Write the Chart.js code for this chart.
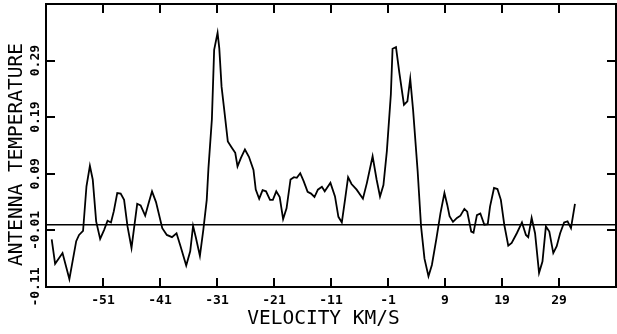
<!DOCTYPE html>
<html>
<head>
<meta charset="utf-8">
<script src="https://cdn.jsdelivr.net/npm/chart.js@4/dist/chart.umd.min.js"></script>
<style>
html,body{margin:0;padding:0;background:#fff;}
#wrap{width:617px;height:334px;position:relative;}
</style>
</head>
<body>
<div id="wrap"><canvas id="c" width="617" height="334"></canvas></div>
<script>
// Velocity (km/s) of each sample
const velocity = [-60.0,-59.4,-58.1,-56.9,-55.7,-55.2,-54.5,-53.9,-53.3,-52.8,-52.2,-51.5,-50.8,-50.2,-49.6,-49.1,-48.5,-47.9,-47.3,-46.7,-46.0,-45.0,-44.4,-43.6,-43.0,-42.4,-41.7,-40.6,-39.8,-38.9,-38.1,-37.4,-36.4,-35.7,-35.2,-34.7,-34.0,-33.4,-32.8,-32.5,-31.9,-31.5,-30.9,-30.6,-30.2,-29.8,-29.1,-28.4,-27.8,-27.4,-26.8,-26.1,-25.4,-24.6,-24.2,-23.6,-23.0,-22.4,-21.7,-21.2,-20.6,-20.0,-19.4,-18.8,-18.1,-17.5,-17.0,-16.4,-15.8,-15.1,-14.5,-13.9,-13.3,-12.6,-12.1,-11.1,-10.3,-9.7,-9.1,-8.5,-8.0,-7.4,-6.5,-5.4,-4.7,-3.7,-3.0,-2.4,-1.8,-1.2,-0.5,-0.2,0.4,1.0,1.8,2.4,2.9,3.4,4.2,4.8,5.4,6.1,6.7,7.5,8.2,8.9,9.4,9.8,10.4,11.1,11.7,12.4,12.9,13.6,14.0,14.6,15.2,15.9,16.5,16.9,17.6,18.2,18.8,19.4,20.1,20.7,21.6,22.5,23.2,23.6,24.2,24.8,25.5,26.1,26.7,27.3,28.0,28.6,29.2,29.9,30.5,31.1,31.8];
// Antenna temperature of each sample
const temperature = [-0.026,-0.069,-0.050,-0.096,-0.029,-0.018,-0.011,0.068,0.104,0.080,0.006,-0.025,-0.009,0.007,0.004,0.024,0.056,0.055,0.044,-0.003,-0.041,0.037,0.034,0.016,0.038,0.059,0.040,-0.006,-0.018,-0.022,-0.015,-0.038,-0.072,-0.047,-0.002,-0.023,-0.055,-0.009,0.044,0.100,0.186,0.309,0.339,0.312,0.244,0.209,0.147,0.136,0.127,0.103,0.118,0.133,0.120,0.097,0.062,0.046,0.061,0.059,0.044,0.044,0.059,0.049,0.010,0.029,0.080,0.084,0.083,0.091,0.077,0.058,0.055,0.049,0.062,0.067,0.059,0.074,0.050,0.014,0.004,0.047,0.084,0.072,0.062,0.046,0.074,0.121,0.080,0.050,0.070,0.130,0.230,0.311,0.314,0.268,0.212,0.218,0.258,0.203,0.095,-0.003,-0.060,-0.091,-0.071,-0.024,0.020,0.056,0.035,0.015,0.005,0.012,0.016,0.028,0.023,-0.012,-0.014,0.017,0.020,0.000,0.001,0.032,0.065,0.063,0.044,0.000,-0.037,-0.032,-0.015,0.004,-0.018,-0.022,0.012,-0.015,-0.085,-0.065,-0.003,-0.012,-0.050,-0.038,-0.015,0.004,0.006,-0.006,0.037];
// Axis ticks
const xTickValues = [-51,-41,-31,-21,-11,-1,9,19,29];
const xTickLabels = ["-51","-41","-31","-21","-11","-1","9","19","29"];
const yTickValues = [-0.11,-0.01,0.09,0.19,0.29];
const yTickLabels = ["-0.11","-0.01","0.09","0.19","0.29"];
const xTitle = "VELOCITY KM/S";
const yTitle = "ANTENNA TEMPERATURE";
const xRange = [-61, 39];
const yRange = [-0.11, 0.39];

const points = velocity.map((v, i) => ({x: v, y: temperature[i]}));
const zeroLine = [{x: xRange[0], y: 0}, {x: xRange[1], y: 0}];

const framePlugin = {
  id: 'frame',
  afterDraw(chart) {
    const ctx = chart.ctx, a = chart.chartArea;
    const xs = chart.scales.x, ys = chart.scales.y;
    ctx.save();
    ctx.strokeStyle = '#000';
    ctx.fillStyle = '#000';
    ctx.lineWidth = 2;
    ctx.strokeRect(a.left, a.top, a.right - a.left, a.bottom - a.top);
    const tl = 9;
    ctx.beginPath();
    xTickValues.forEach(v => {
      const px = Math.round(xs.getPixelForValue(v));
      ctx.moveTo(px, a.bottom); ctx.lineTo(px, a.bottom - tl);
      ctx.moveTo(px, a.top); ctx.lineTo(px, a.top + tl);
    });
    yTickValues.forEach(v => {
      const py = Math.round(ys.getPixelForValue(v));
      ctx.moveTo(a.left, py); ctx.lineTo(a.left + tl, py);
      ctx.moveTo(a.right, py); ctx.lineTo(a.right - tl, py);
    });
    ctx.stroke();
    // x tick labels
    ctx.font = 'bold 13px "DejaVu Sans Mono"';
    ctx.textAlign = 'center';
    ctx.textBaseline = 'middle';
    xTickValues.forEach((v, i) => {
      ctx.fillText(xTickLabels[i], xs.getPixelForValue(v), a.bottom + 13.5);
    });
    // y tick labels (rotated)
    yTickValues.forEach((v, i) => {
      ctx.save();
      ctx.translate(a.left - 10, ys.getPixelForValue(v));
      ctx.rotate(-Math.PI / 2);
      ctx.fillText(yTickLabels[i], 0, 0);
      ctx.restore();
    });
    // titles
    ctx.font = '19.5px "DejaVu Sans Mono"';
    ctx.fillText(xTitle, 323.5, 318.5);
    ctx.save();
    ctx.translate(17, 154.5);
    ctx.rotate(-Math.PI / 2);
    ctx.fillText(yTitle, 0, 0);
    ctx.restore();
    ctx.restore();
  }
};

new Chart(document.getElementById('c'), {
  type: 'line',
  data: {
    datasets: [
      {data: points, borderColor: '#000', borderWidth: 1.8, pointRadius: 0, tension: 0, fill: false},
      {data: zeroLine, borderColor: '#000', borderWidth: 1.6, pointRadius: 0, tension: 0, fill: false}
    ]
  },
  options: {
    responsive: false,
    animation: false,
    devicePixelRatio: 1,
    parsing: true,
    layout: {padding: {left: 46, right: 1, top: 4, bottom: 47}},
    plugins: {legend: {display: false}, tooltip: {enabled: false}, title: {display: false}},
    scales: {
      x: {type: 'linear', min: xRange[0], max: xRange[1], display: false},
      y: {type: 'linear', min: yRange[0], max: yRange[1], display: false}
    }
  },
  plugins: [framePlugin]
});
</script>
</body>
</html>
